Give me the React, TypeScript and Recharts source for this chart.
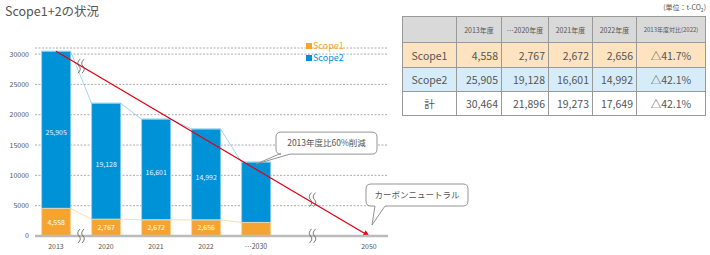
import React from 'react';
import { ComposedChart, Bar, Line, XAxis, YAxis, CartesianGrid, Legend, LabelList, ReferenceDot } from 'recharts';

const years = ['2013', '2020', '2021', '2022', '…2030', '2050'];
const xPos = [0, 1, 2, 3, 4, 6.26];
const scope1 = [4558, 2767, 2672, 2656, 2240];
const scope2 = [25905, 19128, 16601, 14992, 9946];
const showLabel = [true, true, true, true, false];
const yTicks = [0, 5000, 10000, 15000, 20000, 25000, 30000];
const target = [30464, 0]; // 2013 -> 2050
const breakMarks = [
  { x: 0.5, y: 28000 },
  { x: 0.5, y: 0 },
  { x: 5.13, y: 6000 },
  { x: 5.13, y: 0 },
];

const tableHeads = ['2013年度', '…2020年度', '2021年度', '2022年度', '2013年度対比(2022)'];
const tableScope1 = [4558, 2767, 2672, 2656];
const tableScope2 = [25905, 19128, 16601, 14992];
const tableTotal = [30464, 21896, 19273, 17649];
const tableRatio = ['△41.7%', '△42.1%', '△42.1%'];

const ORANGE = '#f6a431';
const BLUE = '#0092d7';
const FONT = '"Noto Sans CJK JP", "Noto Sans", sans-serif';
const BAR_W = 29;
const HALF = 0.29; // half bar width in x units

const fmt = (v: number) => v.toLocaleString('en-US');

const barRows = scope1.map((v, i) => ({
  x: xPos[i],
  s1: v,
  s2: scope2[i],
  s1Label: showLabel[i] ? v : null,
  s2Label: showLabel[i] ? scope2[i] : null,
}));

const edgePoints = (vals: number[]) =>
  vals.flatMap((v, i) => [
    { x: xPos[i] - HALF, y: v },
    { x: xPos[i] + HALF, y: v },
  ]);

const totals = scope1.map((v, i) => v + scope2[i]);
const blueLink = edgePoints(totals);
const orangeLink = edgePoints(scope1);
const targetLine = [
  { x: xPos[0], y: target[0] },
  { x: xPos[5], y: target[1] },
];

// wide bar centred on the numeric x position
const WideBar = (props: any) => {
  const { x, y, width, height, fill, stroke } = props;
  if (height == null || height <= 0) return null;
  const cx = x + width / 2;
  return <rect x={cx - BAR_W / 2} y={y} width={BAR_W} height={height} fill={fill} stroke={stroke} strokeWidth={0.8} />;
};

function calloutPath(x: number, y: number, w: number, h: number, t1: number, t2: number, tx: number, ty: number) {
  const r = 5;
  return `M${x + r},${y} H${x + w - r} Q${x + w},${y} ${x + w},${y + r} V${y + h - r} Q${x + w},${y + h} ${x + w - r},${y + h} H${t2} L${tx},${ty} L${t1},${y + h} H${x + r} Q${x},${y + h} ${x},${y + h - r} V${y + r} Q${x},${y} ${x + r},${y} Z`;
}

const Callout = (props: any) => {
  const { cx, cy, text, dx, dy, w, tail, tipX = 0, tipY = 0 } = props;
  const x = cx + dx;
  const y = cy + dy;
  const h = 22;
  return (
    <g>
      <path d={calloutPath(x, y, w, h, x + tail[0], x + tail[1], cx + tipX, cy + tipY)} fill="#fff" stroke="#888" strokeWidth={0.9} />
      <text x={x + w / 2} y={y + h / 2 + 3} textAnchor="middle" fontSize={8.5} fill="#555" fontFamily={FONT}>
        {text}
      </text>
    </g>
  );
};

const BreakMark = (props: any) => {
  const { cx, cy } = props;
  const s = (o: number) =>
    `M${cx + o + 1},${cy - 7} Q${cx + o - 3},${cy - 3} ${cx + o},${cy} Q${cx + o + 3},${cy + 3} ${cx + o - 1},${cy + 7}`;
  return (
    <g>
      <path d={s(-2)} fill="none" stroke="#555" strokeWidth={0.8} />
      <path d={s(2)} fill="none" stroke="#555" strokeWidth={0.8} />
    </g>
  );
};

const LegendBox = (props: any) => {
  const items = (props.payload || []).filter((p: any) => p.type !== 'none');
  return (
    <div style={{ fontFamily: FONT, fontSize: 9, lineHeight: '12px' }}>
      {items.map((p: any) => (
        <div key={p.value} style={{ display: 'flex', alignItems: 'center', color: p.color }}>
          <span style={{ width: 6, height: 6, background: p.color, marginRight: 1, display: 'inline-block' }} />
          {p.value}
        </div>
      ))}
    </div>
  );
};

const cell: React.CSSProperties = {
  border: '1px solid #999',
  padding: '0 3px',
  color: '#555',
  fontSize: 10.5,
};

function DataTable() {
  const rows = [
    { name: 'Scope1', vals: tableScope1, ratio: tableRatio[0], bg: '#fde3bf' },
    { name: 'Scope2', vals: tableScope2, ratio: tableRatio[1], bg: '#d6edf9' },
    { name: '計', vals: tableTotal, ratio: tableRatio[2], bg: '#fff' },
  ];
  const widths = [54, 45, 47, 44, 44, 69];
  return (
    <table style={{ borderCollapse: 'collapse', fontFamily: FONT, tableLayout: 'fixed', width: 303 }}>
      <colgroup>
        {widths.map((w, i) => (
          <col key={i} style={{ width: w }} />
        ))}
      </colgroup>
      <tbody>
        <tr style={{ height: 26, background: '#d9d9d9' }}>
          <td style={cell} />
          {tableHeads.map((h, i) => (
            <td
              key={h}
              style={{ ...cell, fontSize: i === 4 ? 6 : 7, textAlign: 'center', padding: 0, whiteSpace: 'nowrap' }}
            >
              {h}
            </td>
          ))}
        </tr>
        {rows.map((r, ri) => (
          <tr key={r.name} style={{ height: ri === 0 ? 25 : 24, background: r.bg }}>
            <td style={{ ...cell, textAlign: 'center' }}>{r.name}</td>
            {r.vals.map((v, i) => (
              <td key={i} style={{ ...cell, textAlign: 'right' }}>
                {fmt(v)}
              </td>
            ))}
            <td style={{ ...cell, textAlign: 'center' }}>{r.ratio}</td>
          </tr>
        ))}
      </tbody>
    </table>
  );
}

export default function App() {
  return (
    <div style={{ position: 'absolute', left: 0, top: 0, width: 710, height: 255, background: '#fff', fontFamily: FONT }}>
      <svg width={0} height={0} style={{ position: 'absolute' }}>
        <defs>
          <marker id="arrowRed" viewBox="0 0 10 10" refX="9" refY="5" markerWidth="5" markerHeight="5" orient="auto">
            <path d="M0,0 L10,5 L0,10 z" fill="#e60012" />
          </marker>
        </defs>
      </svg>
      <div style={{ position: 'absolute', left: 5, top: 1, fontSize: 12.5, color: '#555' }}>Scope1+2の状況</div>
      <div style={{ position: 'absolute', left: 0, top: 0 }}>
        <ComposedChart width={480} height={255} data={barRows} margin={{ top: 24, right: 92, bottom: 0, left: 0 }}>
          <CartesianGrid vertical={false} stroke="#888" strokeDasharray="2 1.5" strokeWidth={0.7} />
          <XAxis
            type="number"
            dataKey="x"
            domain={[-0.42, 6.64]}
            ticks={xPos}
            interval={0}
            tickFormatter={(v: number) => years[xPos.indexOf(v)]}
            tickLine={false}
            tickSize={6}
            tickMargin={2}
            height={19}
            axisLine={{ stroke: '#bbb', strokeWidth: 2.5 }}
            tick={{ fontSize: 7, fill: '#555', fontFamily: FONT }}
          />
          <YAxis
            domain={[0, 31000]}
            ticks={yTicks}
            interval={0}
            width={35}
            tickLine={false}
            axisLine={false}
            tickSize={4}
            tickMargin={2}
            tick={{ fontSize: 7, fill: '#555', fontFamily: FONT }}
          />
          <Legend
            verticalAlign="top"
            content={<LegendBox />}
            wrapperStyle={{ position: 'absolute', left: 306, top: 40, width: 60 }}
          />
          <Bar dataKey="s1" name="Scope1" stackId="a" fill={ORANGE} stroke="#fcd49b" shape={<WideBar />} isAnimationActive={false}>
            <LabelList dataKey="s1Label" position="center" formatter={(v: any) => (v == null ? '' : fmt(v))} fill="#fff" fontSize={7} fontFamily={FONT} />
          </Bar>
          <Bar dataKey="s2" name="Scope2" stackId="a" fill={BLUE} stroke="#8fd0f2" shape={<WideBar />} isAnimationActive={false}>
            <LabelList dataKey="s2Label" position="center" formatter={(v: any) => (v == null ? '' : fmt(v))} fill="#e3f4fd" fontSize={7} fontFamily={FONT} dy={3} />
          </Bar>
          <Line data={orangeLink} dataKey="y" stroke="#fcd49b" strokeWidth={0.8} dot={false} activeDot={false} legendType="none" isAnimationActive={false} />
          <Line data={blueLink} dataKey="y" stroke="#86cbef" strokeWidth={0.8} dot={false} activeDot={false} legendType="none" isAnimationActive={false} />
          <Line
            data={targetLine}
            dataKey="y"
            stroke="#e60012"
            strokeWidth={1.3}
            dot={false}
            activeDot={false}
            legendType="none"
            markerEnd="url(#arrowRed)"
            isAnimationActive={false}
          />
          {breakMarks.map((b, i) => (
            <ReferenceDot key={i} x={b.x} y={b.y} shape={(p: any) => <BreakMark {...p} />} />
          ))}
          <ReferenceDot
            x={xPos[4]}
            y={totals[4]}
            shape={(p: any) => <Callout {...p} text="2013年度比60%削減" dx={20} dy={-30} w={101} tail={[3, 14]} tipY={2} />}
          />
          <ReferenceDot
            x={xPos[5]}
            y={0}
            shape={(p: any) => <Callout {...p} text="カーボンニュートラル" dx={-3} dy={-52} w={102} tail={[9, 19]} tipX={3} tipY={-11} />}
          />
        </ComposedChart>
      </div>
      <div style={{ position: 'absolute', right: 4, top: 2, fontSize: 7, color: '#555' }}>
        (単位：t-CO<sub style={{ fontSize: 5 }}>2</sub>)
      </div>
      <div style={{ position: 'absolute', left: 402, top: 16 }}>
        <DataTable />
      </div>
    </div>
  );
}
